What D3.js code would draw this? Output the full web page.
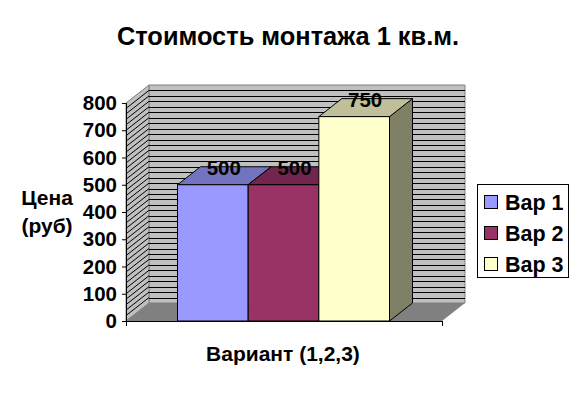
<!DOCTYPE html>
<html>
<head>
<meta charset="utf-8">
<script src="https://cdn.jsdelivr.net/npm/d3@7"></script>
<style>
  html, body { margin: 0; padding: 0; background: #fff; }
  svg { display: block; }
  text { font-family: "Liberation Sans", Arial, sans-serif; font-weight: bold; fill: #000; }
</style>
</head>
<body>
<svg width="578" height="400"></svg>
<script>
// Chart data
const categories = ["Вар 1", "Вар 2", "Вар 3"];
const values = [500, 500, 750];
const colors = ["#9999ff", "#993366", "#ffffcc"];
const topColors = ["#7373bf", "#73264d", "#bfbf99"];
const sideColors = ["#5c5c99", "#5c1f3d", "#808066"];
const yTicks = [0, 100, 200, 300, 400, 500, 600, 700, 800];
const yGridStep = 20;

const svg = d3.select("svg");

// Plot box of the 3D chart
const depthX = 23;
const depthY = -18;
const xScale = d3.scaleBand().domain(categories).range([177.5, 389.5]);
const yScale = d3.scaleLinear().domain([0, 800]).range([321, 103]);
const left = 126, right = 442;
const y0 = yScale(0), yMax = yScale(800);
const gridValues = d3.range(0, 800 + yGridStep, yGridStep);

const poly = pts => pts.map(p => p.join(",")).join(" ");

// Title
svg.append("text")
   .attr("x", 288).attr("y", 45)
   .attr("text-anchor", "middle")
   .style("font-size", "25.4px")
   .text("Стоимость монтажа 1 кв.м.");

// Back wall, side wall, floor
svg.append("polygon")
   .attr("points", poly([[left + depthX, yMax + depthY], [right + depthX, yMax + depthY], [right + depthX, y0 + depthY], [left + depthX, y0 + depthY]]))
   .attr("fill", "#c0c0c0").attr("stroke", "#808080");
svg.append("polygon")
   .attr("points", poly([[left, yMax], [left + depthX, yMax + depthY], [left + depthX, y0 + depthY], [left, y0]]))
   .attr("fill", "#c0c0c0").attr("stroke", "#808080");
svg.append("polygon")
   .attr("points", poly([[left, y0], [left + depthX, y0 + depthY], [right + depthX, y0 + depthY], [right, y0]]))
   .attr("fill", "#808080");

// Gridlines
const grid = gridValues.slice(1, -1);
svg.append("g").selectAll("line").data(grid).enter().append("line")
   .attr("x1", left + depthX).attr("x2", right + depthX)
   .attr("y1", d => Math.round(yScale(d) + depthY) + 0.5)
   .attr("y2", d => Math.round(yScale(d) + depthY) + 0.5)
   .attr("stroke", "#000");
svg.append("g").selectAll("line").data(grid).enter().append("line")
   .attr("x1", left).attr("x2", left + depthX)
   .attr("y1", d => yScale(d)).attr("y2", d => yScale(d) + depthY)
   .attr("stroke", "#000");

// Axis lines and ticks
const yAxis = d3.axisLeft(yScale).tickValues(yTicks).tickSize(4).tickPadding(5);
const yAxisG = svg.append("g").attr("transform", `translate(${left},0)`).call(yAxis);
yAxisG.select(".domain").attr("stroke", "#000");
yAxisG.selectAll("text").style("font-size", "20.5px").attr("fill", "#000");

svg.append("line")
   .attr("x1", left).attr("x2", right).attr("y1", y0 + 0.5).attr("y2", y0 + 0.5)
   .attr("stroke", "#000");
svg.append("g").selectAll("line").data([left, right]).enter().append("line")
   .attr("x1", d => d + 0.5).attr("x2", d => d + 0.5)
   .attr("y1", y0).attr("y2", y0 + 5)
   .attr("stroke", "#000");

// Bars
const bars = svg.append("g").selectAll("g").data(categories).enter().append("g");
bars.append("polygon") // side
    .attr("points", (d, i) => {
        const x = xScale(d) + xScale.bandwidth(), y = yScale(values[i]);
        return poly([[x, y], [x + depthX, y + depthY], [x + depthX, y0 + depthY], [x, y0]]);
    })
    .attr("fill", (d, i) => sideColors[i]).attr("stroke", "#000");
bars.append("polygon") // top
    .attr("points", (d, i) => {
        const x = xScale(d), w = xScale.bandwidth(), y = yScale(values[i]);
        return poly([[x, y], [x + depthX, y + depthY], [x + w + depthX, y + depthY], [x + w, y]]);
    })
    .attr("fill", (d, i) => topColors[i]).attr("stroke", "#000");
bars.append("rect") // front
    .attr("x", d => xScale(d))
    .attr("y", (d, i) => yScale(values[i]))
    .attr("width", xScale.bandwidth())
    .attr("height", (d, i) => y0 - yScale(values[i]))
    .attr("fill", (d, i) => colors[i]).attr("stroke", "#000");

// Value labels
svg.append("g").selectAll("text").data(categories).enter().append("text")
   .attr("x", d => xScale(d) + xScale.bandwidth() / 2 + 11)
   .attr("y", (d, i) => yScale(values[i]) - 10)
   .attr("text-anchor", "middle")
   .style("font-size", "20.5px")
   .text((d, i) => values[i]);

// Axis titles
svg.append("text").attr("x", 47).attr("y", 205).attr("text-anchor", "middle")
   .style("font-size", "21px").text("Цена");
svg.append("text").attr("x", 47).attr("y", 233).attr("text-anchor", "middle")
   .style("font-size", "21px").text("(руб)");
svg.append("text").attr("x", 283).attr("y", 361).attr("text-anchor", "middle")
   .style("font-size", "21px").text("Вариант (1,2,3)");

// Legend
svg.append("rect")
   .attr("x", 477.5).attr("y", 184.5).attr("width", 91).attr("height", 93)
   .attr("fill", "#fff").attr("stroke", "#000");
const legend = svg.append("g").selectAll("g").data(categories).enter().append("g")
   .attr("transform", (d, i) => `translate(484.5,${195.5 + i * 31})`);
legend.append("rect")
   .attr("width", 13).attr("height", 13)
   .attr("fill", (d, i) => colors[i]).attr("stroke", "#000");
legend.append("text")
   .attr("x", 20.5).attr("y", 14)
   .style("font-size", "21.5px")
   .text(d => d);
</script>
</body>
</html>
